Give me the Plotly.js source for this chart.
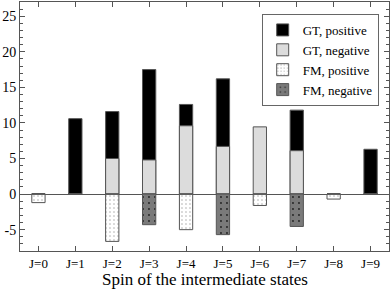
<!DOCTYPE html>
<html>
<head>
<meta charset="utf-8">
<script src="https://cdn.plot.ly/plotly-3.0.1.min.js"></script>
<style>html,body{margin:0;padding:0;background:#fff;}#chart{width:390px;height:290px;}</style>
</head>
<body>
<div id="chart"></div>
<script>
const categories = [0,1,2,3,4,5,6,7,8,9];
const tickLabels = ["J=0","J=1","J=2","J=3","J=4","J=5","J=6","J=7","J=8","J=9"];
// heights of the bar tops (bars drawn overlaid from zero)
const gtPositive = [0, 10.6, 11.6, 17.5, 12.6, 16.2, 0, 11.8, 0, 6.3];
const gtNegative = [0, 0, 5.0, 4.8, 9.6, 6.7, 9.45, 6.1, 0, 0];
const fmPositive = [-1.2, 0, -6.65, 0, -5.0, 0, -1.6, 0, -0.7, 0];
const fmNegative = [0, 0, 0, -4.3, 0, -5.7, 0, -4.55, 0, 0];
const xTitle = 'Spin of the intermediate states';

const FAM = '"Liberation Serif", "Times New Roman", serif';
const outline = {color:'#555', width:1};
const w = 0.36;
const traces = [
  {type:'bar', x:categories, y:gtPositive, name:'GT, positive', width:w,
   marker:{color:'#000', line:outline}},
  {type:'bar', x:categories, y:gtNegative, name:'GT, negative', width:w,
   marker:{color:'#dcdcdc', line:outline}},
  {type:'bar', x:categories, y:fmPositive, name:'FM, positive', width:w,
   marker:{color:'#fff', line:outline, pattern:{shape:'.', bgcolor:'#fff', fgcolor:'#aaa', size:4, solidity:0.12}}},
  {type:'bar', x:categories, y:fmNegative, name:'FM, negative', width:w,
   marker:{color:'#7a7a7a', line:outline, pattern:{shape:'.', bgcolor:'#7a7a7a', fgcolor:'#222', size:6, solidity:0.08}}}
];

const layout = {
  width:390, height:290,
  margin:{l:20, r:1, t:2, b:39},
  barmode:'overlay',
  paper_bgcolor:'#fff', plot_bgcolor:'#fff',
  font:{family:FAM, color:'#000', size:14},
  showlegend:true,
  legend:{x:0.655, y:0.952, xanchor:'left', yanchor:'top', bordercolor:'#666', borderwidth:1,
    bgcolor:'#fff', font:{family:FAM, size:13}, tracegroupgap:0, itemwidth:30, traceorder:'normal'},
  xaxis:{
    range:[-0.5, 9.5], tickvals:categories, ticktext:tickLabels,
    ticks:'inside', ticklen:5, tickcolor:'#555', showline:true, linecolor:'#555', linewidth:1,
    mirror:'ticks', showgrid:false, zeroline:false, tickfont:{family:FAM, size:13}
  },
  yaxis:{
    range:[-8, 27], tickvals:[-5,0,5,10,15,20,25], ticktext:['-5','0','5','10','15','20','25'],
    ticks:'inside', ticklen:5, tickcolor:'#555', showline:true, linecolor:'#555', linewidth:1,
    mirror:'ticks', showgrid:false, zeroline:true, zerolinecolor:'#555', zerolinewidth:1,
    tickfont:{family:FAM, size:14},
    minor:{dtick:1, tick0:0, ticks:'inside', ticklen:3, tickcolor:'#555'}
  },
  annotations:[{text:xTitle, xref:'paper', yref:'paper', x:0.5, y:0, xanchor:'center', yanchor:'bottom',
    yshift:-39, showarrow:false, borderpad:0, font:{family:FAM, size:17, color:'#000'}}]
};
Plotly.newPlot('chart', traces, layout, {displayModeBar:false, staticPlot:true});
</script>
</body>
</html>
